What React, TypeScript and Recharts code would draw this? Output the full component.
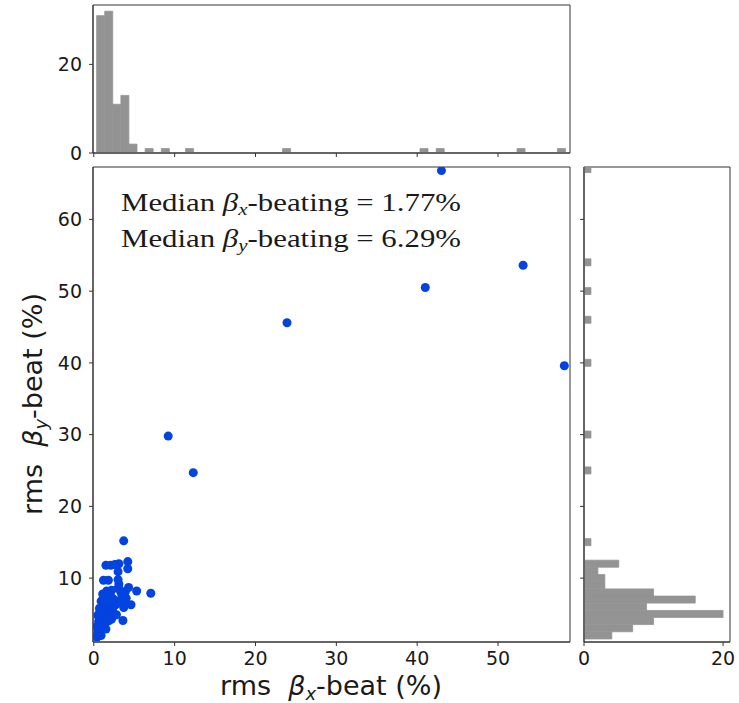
import React from "react";
import { ScatterChart, Scatter, BarChart, Bar, XAxis, YAxis, ZAxis, ReferenceArea } from "recharts";

// rms beta-beating per seed (%), horizontal vs vertical
const betaX = [
  0.4, 0.6, 0.9, 0.5,
  0.4, 0.7, 1.0, 1.2, 0.8, 1.5, 0.5,
  0.6, 0.9, 1.1, 1.3, 1.6, 0.8, 1.9, 2.2, 3.6, 1.4,
  0.5, 0.7, 0.9, 1.0, 1.1, 1.2, 1.3, 1.4, 1.5, 1.6, 1.7, 1.8, 1.9, 2.0, 2.1, 2.3, 2.3, 2.8, 1.0, 0.8,
  0.7, 1.1, 1.4, 1.7, 2.0, 2.3, 2.7, 3.7, 4.6,
  0.9, 1.2, 1.5, 1.8, 2.0, 2.2, 2.3, 2.6, 3.45, 3.2, 3.5, 3.8, 4.0, 1.6, 2.1, 1.3,
  1.1, 1.6, 2.0, 2.2, 3.4, 3.2, 3.6, 3.9, 5.3,
  3.0, 3.1, 4.3,
  1.2, 1.8, 3.0,
  3.0, 4.2,
  1.5, 2.1, 2.6, 3.1, 4.2,
  3.7, 7.05, 9.2, 12.3, 23.9, 41.0, 43.0, 53.1, 58.2,
];
const betaY = [
  1.8, 2.2, 2.0, 2.4,
  3.3, 2.8, 3.0, 3.4, 3.2, 2.9, 3.0,
  4.0, 3.8, 4.2, 4.4, 3.9, 4.3, 4.1, 4.3, 4.1, 3.7,
  4.8, 5.2, 4.6, 5.0, 5.4, 4.7, 5.1, 4.9, 5.3, 4.6, 5.0, 5.4, 4.8, 5.2, 4.7, 5.1, 5.4, 4.9, 5.3, 5.0,
  5.8, 6.2, 5.7, 6.4, 6.0, 5.6, 6.3, 5.9, 6.3,
  6.8, 7.3, 6.6, 7.0, 7.4, 6.7, 7.2, 6.9, 7.1, 6.6, 7.4, 6.8, 7.2, 7.4, 6.9, 6.7,
  7.8, 8.2, 7.7, 8.3, 7.9, 8.4, 7.6, 8.1, 8.2,
  8.6, 9.2, 8.7,
  9.7, 9.7, 9.8,
  10.9, 11.3,
  11.8, 11.8, 11.9, 12.0, 12.3,
  15.2, 7.9, 29.8, 24.7, 45.6, 50.5, 66.8, 53.6, 39.6,
];

// histogram of beta_x (1 % bins, only non-empty bins listed)
const xBinCenters = [0.85, 1.85, 2.85, 3.85, 4.85, 6.85, 8.85, 11.85, 23.85, 40.85, 42.85, 52.85, 57.85];
const xBinCounts = [31, 32, 11, 13, 2, 1, 1, 1, 1, 1, 1, 1, 1];

// histogram of beta_y
const yBinCenters = [2, 3, 4, 5, 6, 7, 8, 9, 10, 11, 12, 15, 25, 30, 40, 46, 50, 54, 67];
const yBinCounts = [4, 7, 10, 20, 9, 16, 10, 3, 3, 2, 5, 1, 1, 1, 1, 1, 1, 1, 1];

const xTicks = [0, 10, 20, 30, 40, 50];
const yTicks = [10, 20, 30, 40, 50, 60];
const histTicks = [0, 20];

const medianX = "1.77%";
const medianY = "6.29%";

const X_MIN = -0.1;
const X_MAX = 58.9;
const Y_MIN = 1.1;
const Y_MAX = 67.3;
const TOP_MAX = 33.4;
const RIGHT_MAX = 21;

const points = betaX.map((x, i) => ({ x, y: betaY[i] }));
const topHist = xBinCenters.map((c, i) => ({ c, n: xBinCounts[i] }));
const rightHist = yBinCenters.map((c, i) => ({ c, n: yBinCounts[i] }));

const AX = "#333";
const TXT = "#1a1a1a";
const GREY = "#929392";
const BLUE = "#0343df";
const tickStyle = { fontSize: 19, fill: TXT, fontFamily: "DejaVu Sans" };
const blank = () => "";

export default function App() {
  return (
    <div style={{ position: "absolute", left: 0, top: 0, width: 739, height: 703, background: "#fff" }}>
      {/* top marginal histogram */}
      <div style={{ position: "absolute", left: 0, top: 0 }}>
        <BarChart width={580} height={166} data={topHist} margin={{ top: 5, right: 10, bottom: 6, left: 0 }} barCategoryGap={0} barGap={0}>
          <XAxis type="number" dataKey="c" domain={[X_MIN, X_MAX]} allowDataOverflow ticks={xTicks} interval={0} tickFormatter={blank} height={7} tickSize={4} stroke={AX} />
          <YAxis type="number" domain={[0, TOP_MAX]} allowDataOverflow ticks={histTicks} interval={0} width={93} tickSize={4} tickMargin={7} stroke={AX} tick={tickStyle} />
          <Bar dataKey="n" fill={GREY} stroke={GREY} strokeWidth={0.8} isAnimationActive={false} />
          <ReferenceArea x1={X_MIN} x2={X_MAX} y1={0} y2={TOP_MAX} fill="none" stroke={AX} strokeOpacity={1} />
        </BarChart>
      </div>

      {/* main scatter */}
      <div style={{ position: "absolute", left: 0, top: 0 }}>
        <ScatterChart width={580} height={703} margin={{ top: 167, right: 10, bottom: 0, left: 0 }}>
          <XAxis type="number" dataKey="x" domain={[X_MIN, X_MAX]} allowDataOverflow ticks={xTicks} interval={0} height={61} tickSize={4} tickMargin={6} stroke={AX} tick={tickStyle} />
          <YAxis type="number" dataKey="y" domain={[Y_MIN, Y_MAX]} allowDataOverflow ticks={yTicks} interval={0} width={93} tickSize={4} tickMargin={7} stroke={AX} tick={tickStyle} />
          <ZAxis range={[24, 24]} />
          <ReferenceArea x1={X_MIN} x2={X_MAX} y1={Y_MIN} y2={Y_MAX} fill="none" stroke={AX} strokeOpacity={1} />
          <Scatter data={points} fill={BLUE} shape="circle" isAnimationActive={false} />
        </ScatterChart>
      </div>

      {/* right marginal histogram */}
      <div style={{ position: "absolute", left: 560, top: 0 }}>
        <BarChart width={179} height={703} layout="vertical" data={rightHist} margin={{ top: 167, right: 9, bottom: 0, left: 0 }} barCategoryGap={0} barGap={0}>
          <XAxis type="number" domain={[0, RIGHT_MAX]} allowDataOverflow ticks={histTicks} interval={0} height={61} tickSize={4} tickMargin={6} stroke={AX} tick={tickStyle} />
          <YAxis type="number" dataKey="c" domain={[Y_MIN, Y_MAX]} reversed allowDataOverflow ticks={yTicks} interval={0} tickFormatter={blank} width={24} tickSize={4} stroke={AX} />
          <Bar dataKey="n" fill={GREY} stroke={GREY} strokeWidth={0.8} isAnimationActive={false} />
          <ReferenceArea x1={0} x2={RIGHT_MAX} y1={Y_MIN} y2={Y_MAX} fill="none" stroke={AX} strokeOpacity={1} />
        </BarChart>
      </div>

      {/* labels and annotation */}
      <svg width={739} height={703} style={{ position: "absolute", left: 0, top: 0, pointerEvents: "none" }}>
        <text x={331} y={695} textAnchor="middle" fontSize={27} fontFamily="DejaVu Sans" fill={TXT} style={{ whiteSpace: "pre" }}>
          {"rms  "}
          <tspan fontStyle="italic">β</tspan>
          <tspan fontStyle="italic" fontSize={18} dy={5}>x</tspan>
          <tspan dy={-5}>-beat (%)</tspan>
        </text>
        <text x={0} y={0} transform="translate(42,404) rotate(-90)" textAnchor="middle" fontSize={27} fontFamily="DejaVu Sans" fill={TXT} style={{ whiteSpace: "pre" }}>
          {"rms  "}
          <tspan fontStyle="italic">β</tspan>
          <tspan fontStyle="italic" fontSize={18} dy={5}>y</tspan>
          <tspan dy={-5}>-beat (%)</tspan>
        </text>
        <text x={121} y={211} fontSize={25} fontFamily="Liberation Serif" fill={TXT} textLength={340} lengthAdjust="spacingAndGlyphs" style={{ whiteSpace: "pre" }}>
          {"Median "}
          <tspan fontStyle="italic">β</tspan>
          <tspan fontStyle="italic" fontSize={17} dy={4}>x</tspan>
          <tspan dy={-4}>{"-beating = " + medianX}</tspan>
        </text>
        <text x={121} y={247} fontSize={25} fontFamily="Liberation Serif" fill={TXT} textLength={340} lengthAdjust="spacingAndGlyphs" style={{ whiteSpace: "pre" }}>
          {"Median "}
          <tspan fontStyle="italic">β</tspan>
          <tspan fontStyle="italic" fontSize={17} dy={4}>y</tspan>
          <tspan dy={-4}>{"-beating = " + medianY}</tspan>
        </text>
      </svg>
    </div>
  );
}
